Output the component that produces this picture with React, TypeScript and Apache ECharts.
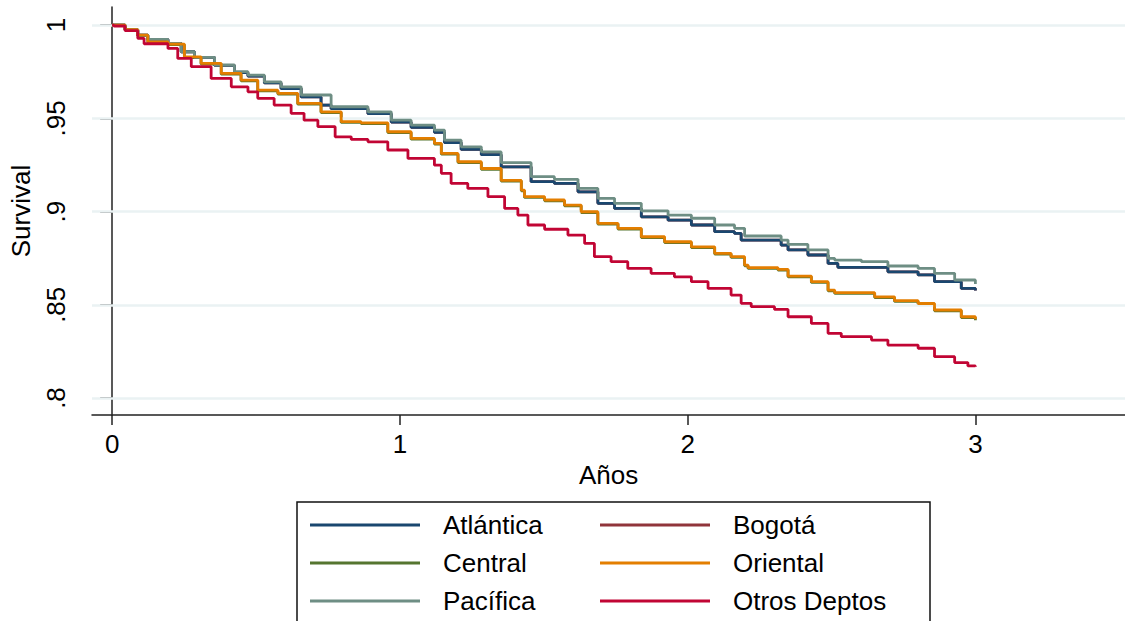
import React, { useEffect, useRef } from "react";
import * as echarts from "echarts";

const X_TICKS = [0, 1, 2, 3];
const Y_TICKS = [0.8, 0.85, 0.9, 0.95, 1];

const ATLANTICA: [number, number][] = [
  [0, 1], [0.045, 0.9975], [0.089, 0.9946], [0.124, 0.9923], [0.194, 0.9902], [0.24, 0.9857], [0.286, 0.9827],
  [0.356, 0.9784], [0.425, 0.9745], [0.472, 0.9727], [0.529, 0.969], [0.587, 0.966], [0.657, 0.9615],
  [0.726, 0.9571], [0.761, 0.9552], [0.889, 0.9525], [0.97, 0.948], [1.039, 0.9452], [1.12, 0.9425],
  [1.155, 0.937], [1.213, 0.9333], [1.283, 0.9305], [1.352, 0.924], [1.456, 0.916], [1.537, 0.9151],
  [1.619, 0.9106], [1.688, 0.9044], [1.746, 0.9017], [1.839, 0.8972], [1.932, 0.8954], [2.013, 0.8928],
  [2.094, 0.8892], [2.163, 0.8883], [2.186, 0.8847], [2.325, 0.882], [2.349, 0.8794], [2.418, 0.8767],
  [2.488, 0.8722], [2.522, 0.8701], [2.696, 0.8677], [2.801, 0.866], [2.858, 0.8624], [2.951, 0.8588],
  [3.0, 0.8576],
];

const BOGOTA: [number, number][] = [
  [0, 1], [0.045, 0.9975], [0.089, 0.9946], [0.124, 0.9923], [0.194, 0.9902], [0.24, 0.9857], [0.286, 0.9827],
  [0.356, 0.9784], [0.425, 0.9745], [0.472, 0.9727], [0.529, 0.969], [0.587, 0.966], [0.657, 0.9615],
  [0.726, 0.9571], [0.761, 0.9552], [0.889, 0.9525], [0.97, 0.948], [1.039, 0.9452], [1.12, 0.9425],
  [1.155, 0.937], [1.213, 0.9333], [1.283, 0.9305], [1.352, 0.924], [1.456, 0.916], [1.537, 0.9151],
  [1.619, 0.9106], [1.688, 0.9044], [1.746, 0.9017], [1.839, 0.8972], [1.932, 0.8954], [2.013, 0.8928],
  [2.094, 0.8892], [2.163, 0.8883], [2.186, 0.8847], [2.325, 0.882], [2.349, 0.8794], [2.418, 0.8767],
  [2.488, 0.8722], [2.522, 0.8701], [2.696, 0.8677], [2.801, 0.866], [2.858, 0.8624], [2.951, 0.8588],
  [3.0, 0.8576],
];

const CENTRAL: [number, number][] = [
  [0, 1], [0.045, 0.9973], [0.089, 0.9944], [0.124, 0.9907], [0.194, 0.9895], [0.251, 0.9826], [0.309, 0.9791],
  [0.379, 0.9737], [0.448, 0.9701], [0.506, 0.9647], [0.576, 0.963], [0.645, 0.9576], [0.726, 0.9531],
  [0.796, 0.9478], [0.865, 0.9472], [0.958, 0.9424], [1.039, 0.9388], [1.12, 0.9362], [1.144, 0.9308],
  [1.202, 0.9263], [1.283, 0.9227], [1.352, 0.9164], [1.422, 0.9111], [1.433, 0.9076], [1.503, 0.9058],
  [1.572, 0.9031], [1.63, 0.8995], [1.688, 0.8933], [1.758, 0.8906], [1.839, 0.8861], [1.92, 0.8834],
  [2.013, 0.8807], [2.094, 0.8772], [2.151, 0.8754], [2.198, 0.8709], [2.21, 0.8695], [2.314, 0.8686],
  [2.349, 0.865], [2.43, 0.862], [2.488, 0.8575], [2.511, 0.8561], [2.65, 0.8539], [2.719, 0.8518],
  [2.801, 0.8503], [2.858, 0.8468], [2.951, 0.8432], [3.0, 0.8417],
];

const ORIENTAL: [number, number][] = [
  [0, 1], [0.045, 0.9975], [0.089, 0.9946], [0.124, 0.991], [0.194, 0.9898], [0.251, 0.983], [0.309, 0.9795],
  [0.379, 0.9741], [0.448, 0.9705], [0.506, 0.9651], [0.576, 0.9634], [0.645, 0.958], [0.726, 0.9535],
  [0.796, 0.9482], [0.865, 0.9476], [0.958, 0.9428], [1.039, 0.9392], [1.12, 0.9366], [1.144, 0.9312],
  [1.202, 0.9267], [1.283, 0.9231], [1.352, 0.9167], [1.422, 0.9115], [1.433, 0.908], [1.503, 0.9062],
  [1.572, 0.9035], [1.63, 0.8999], [1.688, 0.8937], [1.758, 0.891], [1.839, 0.8865], [1.92, 0.8838],
  [2.013, 0.8811], [2.094, 0.8776], [2.151, 0.8758], [2.198, 0.8713], [2.21, 0.8699], [2.314, 0.869],
  [2.349, 0.8654], [2.43, 0.8624], [2.488, 0.8579], [2.511, 0.8565], [2.65, 0.8543], [2.719, 0.8522],
  [2.801, 0.8507], [2.858, 0.8472], [2.951, 0.8436], [3.0, 0.8422],
];

const PACIFICA: [number, number][] = [
  [0, 1], [0.045, 0.9975], [0.089, 0.9946], [0.124, 0.9923], [0.194, 0.9902], [0.24, 0.9857], [0.286, 0.9827],
  [0.356, 0.9786], [0.425, 0.975], [0.472, 0.9732], [0.529, 0.9696], [0.587, 0.9669], [0.657, 0.9625],
  [0.761, 0.9562], [0.889, 0.9535], [0.97, 0.949], [1.039, 0.9464], [1.12, 0.9437], [1.155, 0.9383],
  [1.213, 0.9347], [1.283, 0.932], [1.352, 0.9262], [1.456, 0.9187], [1.537, 0.9173], [1.619, 0.9124],
  [1.688, 0.9071], [1.746, 0.9044], [1.839, 0.9004], [1.932, 0.8981], [2.013, 0.8964], [2.094, 0.8928],
  [2.163, 0.891], [2.198, 0.8869], [2.325, 0.8847], [2.349, 0.8824], [2.418, 0.8794], [2.488, 0.8749],
  [2.511, 0.874], [2.604, 0.8731], [2.696, 0.8708], [2.801, 0.8695], [2.858, 0.8669], [2.928, 0.8633],
  [3.0, 0.8611],
];

const OTROS: [number, number][] = [
  [0, 1], [0.006, 0.9995], [0.045, 0.997], [0.089, 0.9929], [0.111, 0.99], [0.194, 0.9875], [0.228, 0.9821],
  [0.275, 0.9777], [0.344, 0.9714], [0.414, 0.9669], [0.472, 0.9642], [0.506, 0.9607], [0.563, 0.9571],
  [0.622, 0.9527], [0.667, 0.949], [0.715, 0.9455], [0.775, 0.9401], [0.831, 0.9387], [0.889, 0.9374],
  [0.958, 0.933], [1.028, 0.9285], [1.12, 0.9249], [1.144, 0.9205], [1.178, 0.9151], [1.236, 0.9124],
  [1.306, 0.908], [1.364, 0.9017], [1.41, 0.8981], [1.445, 0.8928], [1.503, 0.8905], [1.584, 0.8874],
  [1.642, 0.8829], [1.676, 0.8758], [1.734, 0.8731], [1.792, 0.8695], [1.873, 0.8669], [1.954, 0.865],
  [2.013, 0.8624], [2.071, 0.8588], [2.151, 0.8552], [2.186, 0.8508], [2.221, 0.849], [2.302, 0.8475],
  [2.349, 0.8436], [2.43, 0.84], [2.488, 0.8347], [2.534, 0.8329], [2.639, 0.8311], [2.696, 0.8284],
  [2.801, 0.8267], [2.858, 0.8222], [2.928, 0.819], [2.974, 0.8172], [3.0, 0.8168],
];

const FONT = "'Liberation Sans', Arial, sans-serif";

const SERIES_DEF: { name: string; color: string; data: [number, number][] }[] = [
  { name: "Bogotá", color: "#90353b", data: BOGOTA },
  { name: "Central", color: "#55752f", data: CENTRAL },
  { name: "Atlántica", color: "#1a476f", data: ATLANTICA },
  { name: "Pacífica", color: "#6e8e84", data: PACIFICA },
  { name: "Oriental", color: "#e37e00", data: ORIENTAL },
  { name: "Otros Deptos", color: "#c10534", data: OTROS },
];

export default function App() {
  const ref = useRef<HTMLDivElement>(null);

  useEffect(() => {
    document.body.style.margin = "0";
    if (!ref.current) return;
    const chart = echarts.init(ref.current, null, { renderer: "svg" });

    const legendText = {
      fontSize: 26,
      color: "#000",
      fontFamily: FONT,
      lineHeight: 26,
      padding: [0, 0, 0, 18],
    };

    const series: any[] = SERIES_DEF.map((s, i) => ({
      name: s.name,
      type: "line",
      step: "end",
      data: s.data,
      symbol: "none",
      color: s.color,
      lineStyle: { color: s.color, width: 2.8 },
      z: 3 + i,
    }));

    series.unshift({
      name: "grid",
      type: "line",
      data: [],
      symbol: "none",
      z: 1,
      silent: true,
      markLine: {
        silent: true,
        symbol: ["none", "none"],
        label: { show: false },
        lineStyle: { type: "solid", color: "#eaf2f3", width: 2.5 },
        data: Y_TICKS.map((v) => ({ yAxis: v })),
      },
    });

    const legendCommon = {
      orient: "vertical",
      top: 512,
      padding: 0,
      height: 109,
      itemWidth: 110,
      itemHeight: 3,
      itemGap: 12,
      icon: "rect",
      selectedMode: false,
      textStyle: legendText,
    };

    chart.setOption({
      animation: false,
      backgroundColor: "#fff",
      textStyle: { fontFamily: FONT },
      grid: { left: 92, top: 7, right: 0, bottom: 206, containLabel: false },
      xAxis: {
        type: "value",
        min: -0.07,
        max: 3.52,
        name: "Años",
        nameLocation: "middle",
        nameGap: 37,
        nameTextStyle: { fontSize: 26, color: "#000", fontFamily: FONT },
        axisLine: { show: true, lineStyle: { color: "#222", width: 1.5 } },
        axisTick: { show: true, length: 10, lineStyle: { color: "#222", width: 1.5 }, customValues: X_TICKS },
        axisLabel: { fontSize: 26, color: "#000", margin: 16, fontFamily: FONT, customValues: X_TICKS },
        splitLine: { show: false },
      },
      yAxis: {
        type: "value",
        min: 0.7909,
        max: 1.0097,
        name: "Survival",
        nameLocation: "middle",
        nameGap: 58,
        nameTextStyle: { fontSize: 26, color: "#000", fontFamily: FONT },
        axisLine: { show: true, lineStyle: { color: "#222", width: 1.5 } },
        axisTick: { show: true, length: 12, lineStyle: { color: "#222", width: 1.5 }, customValues: Y_TICKS },
        axisLabel: {
          fontSize: 26,
          color: "#000",
          rotate: 90,
          margin: 23,
          fontFamily: FONT,
          customValues: Y_TICKS,
          formatter: (v: number) => (v >= 1 ? "1" : String(Math.round(v * 100) / 100).replace(/^0/, "")),
        },
        splitLine: { show: false },
      },
      legend: [
        { ...legendCommon, data: ["Atlántica", "Central", "Pacífica"], left: 310 },
        { ...legendCommon, data: ["Bogotá", "Oriental", "Otros Deptos"], left: 600 },
      ],
      graphic: [
        {
          type: "rect",
          shape: { x: 297, y: 502, width: 633, height: 150 },
          style: { fill: "none", stroke: "#111", lineWidth: 1.5 },
          silent: true,
        },
      ],
      series,
    });

    return () => chart.dispose();
  }, []);

  return <div ref={ref} style={{ width: 1125, height: 621 }} />;
}
